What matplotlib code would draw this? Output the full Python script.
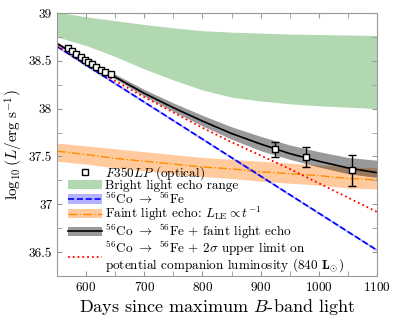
import matplotlib
matplotlib.use("Agg")
import matplotlib.pyplot as plt
from matplotlib.patches import Patch
from matplotlib.lines import Line2D
from matplotlib.ticker import MultipleLocator, FormatStrFormatter

plt.rcParams['font.family'] = 'serif'
plt.rcParams['font.serif'] = ['cmr10']
plt.rcParams['mathtext.fontset'] = 'cm'
plt.rcParams['axes.formatter.use_mathtext'] = True

# model grid (days since max B)
days = [550, 600, 650, 700, 750, 800, 850, 900, 950, 1000, 1050, 1100]

# bright light echo range
green_top = [39.01, 38.96, 38.92, 38.88, 38.845, 38.815, 38.80, 38.79, 38.78, 38.775, 38.77, 38.765]
green_bot = [38.75, 38.66, 38.545, 38.415, 38.30, 38.195, 38.12, 38.08, 38.05, 38.03, 38.015, 38.0]

# faint light echo
orange_mid = [37.555, 37.52, 37.48, 37.45, 37.42, 37.39, 37.37, 37.34, 37.32, 37.30, 37.27, 37.255]
orange_top = [37.64, 37.61, 37.58, 37.55, 37.52, 37.49, 37.47, 37.45, 37.43, 37.41, 37.39, 37.38]
orange_bot = [37.45, 37.42, 37.38, 37.35, 37.32, 37.29, 37.27, 37.24, 37.22, 37.20, 37.17, 37.16]

# Co -> Fe + faint light echo
black_mid = [38.68, 38.50, 38.33, 38.16, 38.01, 37.87, 37.74, 37.63, 37.53, 37.45, 37.38, 37.33]
grey_top = [38.70, 38.52, 38.36, 38.20, 38.06, 37.93, 37.81, 37.71, 37.62, 37.55, 37.49, 37.46]
grey_bot = [38.67, 38.48, 38.31, 38.13, 37.97, 37.82, 37.68, 37.56, 37.47, 37.39, 37.32, 37.28]

# Co -> Fe + companion upper limit
red_line = [38.66, 38.47, 38.29, 38.12, 37.96, 37.80, 37.65, 37.51, 37.37, 37.22, 37.07, 36.92]

# pure Co -> Fe decay
co_days = [550, 1100]
co_line = [38.65, 36.52]
co_err = 0.012

# F350LP photometry
obs_days = [568.4, 575.3, 582.7, 591.3, 598.2, 602.8, 609.6, 616.5, 625.1, 633.0, 642.8,
            924.0, 977.3, 1056.5]
obs_lum = [38.632, 38.607, 38.576, 38.542, 38.51, 38.49, 38.466, 38.434, 38.406, 38.378, 38.357,
           37.573, 37.497, 37.354]
obs_err = [0, 0, 0, 0, 0, 0, 0, 0, 0, 0, 0, 0.083, 0.105, 0.158]

fig = plt.figure(figsize=(3.95, 3.21), dpi=100)
ax = fig.add_axes([0.1443, 0.1402, 0.8101, 0.8193])

ax.fill_between(days, green_bot, green_top, color='g', alpha=0.3, lw=0)
ax.fill_between(days, orange_bot, orange_top, color='tab:orange', alpha=0.4, lw=0)
ax.plot(days, orange_mid, color='darkorange', ls='-.', lw=1)
ax.fill_between(days, grey_bot, grey_top, color='k', alpha=0.4, lw=0)
ax.plot(days, black_mid, color='k', lw=1.2)
co_lo = [v - co_err for v in co_line]
co_hi = [v + co_err for v in co_line]
ax.fill_between(co_days, co_lo, co_hi, color='b', alpha=0.3, lw=0)
ax.plot(co_days, co_line, color='b', ls='--', lw=1.2)
ax.plot(days, red_line, color='r', ls=':', lw=1.3)

ax.errorbar(obs_days[11:], obs_lum[11:], yerr=obs_err[11:], fmt='none', ecolor='k',
            elinewidth=1, capsize=3, capthick=1, zorder=5)
ax.plot(obs_days, obs_lum, 's', mfc='w', mec='k', mew=1, ms=5, zorder=6, ls='none')

ax.set_xlim(550, 1100)
ax.set_ylim(36.25, 39)
ax.xaxis.set_major_locator(MultipleLocator(100))
ax.xaxis.set_minor_locator(MultipleLocator(50))
ax.yaxis.set_major_locator(MultipleLocator(0.5))
ax.yaxis.set_minor_locator(MultipleLocator(0.25))
ax.yaxis.set_major_formatter(FormatStrFormatter('%g'))
ax.tick_params(which='both', direction='in', top=True, right=True, color='#999999',
               labelsize=9.5, length=3.5)
for s in ax.spines.values():
    s.set_color('#999999')

ax.set_xlabel(r'Days since maximum $B$-band light', fontsize=13, labelpad=2)
ax.set_ylabel(r'$\log_{10}(L/\mathrm{erg\ s^{-1}})$', fontsize=11, labelpad=3)

h_obs = Line2D([], [], marker='s', mfc='w', mec='k', mew=1, ms=5, ls='none')
h_green = Patch(color='g', alpha=0.3, lw=0)
h_co = (Patch(color='b', alpha=0.3, lw=0), Line2D([], [], color='b', ls='--', lw=1.2))
h_or = (Patch(color='tab:orange', alpha=0.4, lw=0), Line2D([], [], color='darkorange', ls='-.', lw=1))
h_blk = (Patch(color='k', alpha=0.4, lw=0), Line2D([], [], color='k', lw=1.2))
h_red = Line2D([], [], color='r', ls=':', lw=1.3)
labels = [r'$F350LP$ (optical)',
          'Bright light echo range',
          r'$^{56}$Co $\rightarrow$ $^{56}$Fe',
          r'Faint light echo: $L_{\rm LE} \propto t^{-1}$',
          r'$^{56}$Co $\rightarrow$ $^{56}$Fe + faint light echo',
          '$^{56}$Co $\\rightarrow$ $^{56}$Fe + 2$\\sigma$ upper limit on\n'
          'potential companion luminosity (840 $\\mathbf{L}_{\\odot}$)']
leg = ax.legend([h_obs, h_green, h_co, h_or, h_blk, h_red], labels, loc='lower left',
                bbox_to_anchor=(0.015, -0.016), frameon=False, fontsize=9.5, handlelength=2.6,
                handletextpad=0.25, labelspacing=-0.12, borderaxespad=0.2, borderpad=0.25)
leg.get_texts()[-1].set_linespacing(0.85)

fig.savefig('out.png', dpi=100)
